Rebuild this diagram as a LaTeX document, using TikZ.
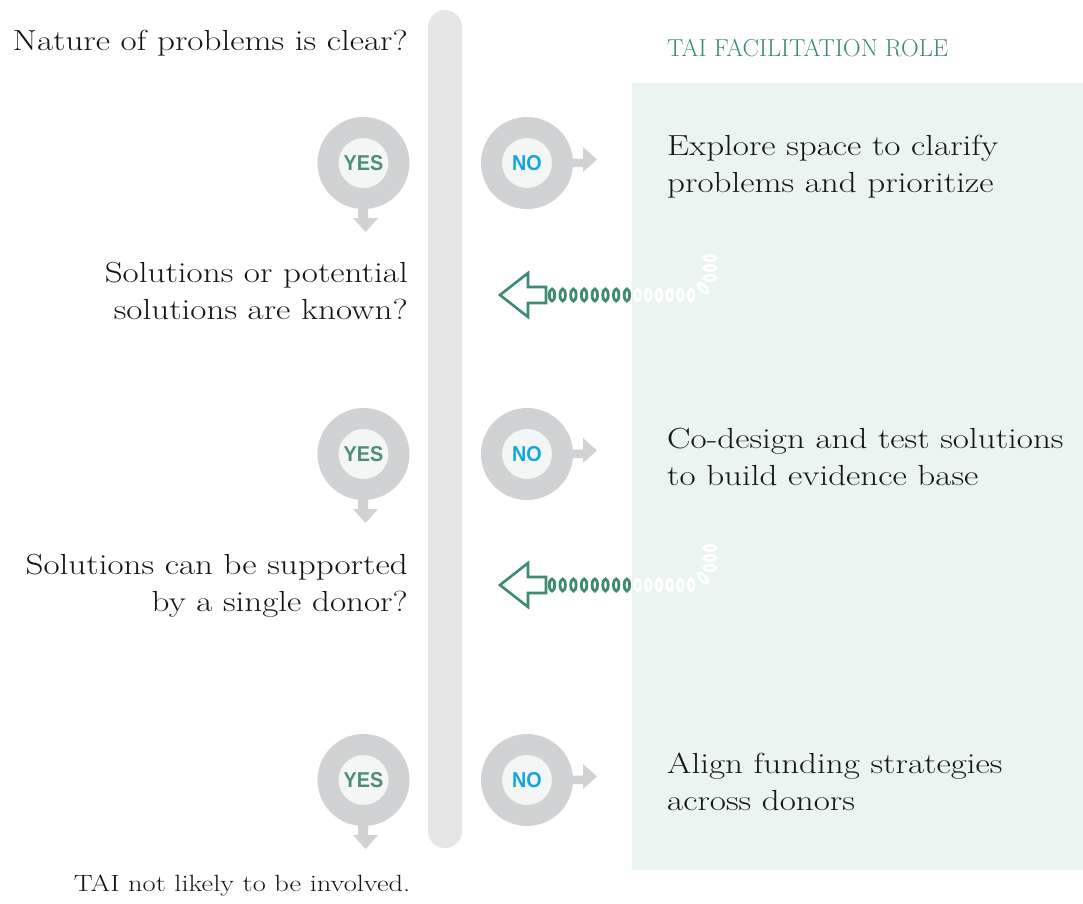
\documentclass[tikz,border=0pt]{standalone}
\usepackage{fontspec}
\newfontfamily\labelfont{Liberation Sans}[FakeStretch=0.92]
\newfontfamily\widefont{Latin Modern Roman}[FakeStretch=1.21]
\begin{document}
\definecolor{barGray}{HTML}{E6E6E6}
\definecolor{ringGray}{HTML}{D1D2D4}
\definecolor{ringFill}{HTML}{F4F5F5}
\definecolor{panelGreen}{HTML}{EAF4F1}
\definecolor{roleGreen}{HTML}{3E8A72}
\definecolor{yesGreen}{HTML}{4E8E78}
\definecolor{noBlue}{HTML}{12A5E0}
\definecolor{ink}{HTML}{161616}
\begin{tikzpicture}[x=1pt,y=-1pt,
  question/.style={anchor=east,align=right,text=ink,font=\widefont\fontsize{29}{37}\selectfont,inner sep=0pt},
  role/.style={anchor=west,align=left,text=ink,font=\widefont\fontsize{29}{37}\selectfont,inner sep=0pt},
  ring/.style={circle,draw=ringGray,line width=21pt,fill=ringFill,minimum size=71pt,inner sep=0pt,font=\labelfont\bfseries\fontsize{21.5}{21.5}\selectfont},
  yesring/.style={ring,text=yesGreen},
  noring/.style={ring,text=noBlue},
  pointer/.style={fill=ringGray,draw=none},
  coil/.style={line width=2.8pt},
  hollowarrow/.style={draw=roleGreen,line width=2.6pt,fill=white,line join=miter}
]
\useasboundingbox (0,0) rectangle (1083,903);
\fill[white] (0,0) rectangle (1083,903);

% facilitation panel and central bar
\fill[panelGreen] (632,83) rectangle (1083,870);
\fill[barGray,rounded corners=17pt] (428,10) rectangle (462,848);

\node[anchor=west,text=roleGreen,font=\fontsize{24.5}{24.5}\selectfont,inner sep=0pt] (title) at (667,48) {TAI FACILITATION ROLE};

% decision questions
\node[question] (q1) at (408,43) {Nature of problems is clear?};
\node[question] (q2) at (408,291) {Solutions or potential\\solutions are known?};
\node[question] (q3) at (408,586) {Solutions can be supported\\by a single donor?};

% facilitation roles
\node[role] (r1) at (667,167) {Explore space to clarify\\problems and prioritize};
\node[role] (r2) at (667,457) {Co-design and test solutions\\to build evidence base};
\node[role] (r3) at (667,782) {Align funding strategies\\across donors};

\node[anchor=center,text=ink,font=\widefont\fontsize{23.5}{23.5}\selectfont,inner sep=0pt] (none) at (242,886) {TAI not likely to be involved.};

% yes / no rings with their pointers
\foreach \y [count=\i] in {163,454,780}{
  \fill[pointer] (358,\y+40) -- (368,\y+40) -- (368,\y+55) -- (378,\y+55) -- (365.5,\y+69) -- (353,\y+55) -- (358,\y+55) -- cycle;
  \fill[pointer] (565,\y-4.5) -- (583,\y-4.5) -- (583,\y-16) -- (597,\y-3.5) -- (583,\y+9) -- (583,\y+4) -- (565,\y+4) -- cycle;
  \node[yesring] (yes\i) at (363.5,\y) {YES};
  \node[noring] (no\i) at (527,\y) {NO};
}

% coiled return arrows back to the next question
\foreach \y [count=\i] in {295,585}{
  \begin{scope}[shift={(0,\y)}]
    \foreach \k in {0,...,7}
      \draw[coil,draw=roleGreen] (552+\k*10.7,0) ellipse [x radius=2.7,y radius=6];
    \foreach \k in {8,...,13}
      \draw[coil,draw=white] (552+\k*10.7,0) ellipse [x radius=2.7,y radius=6];
    \draw[coil,draw=white,rotate around={45:(703,-7)}] (703,-7) ellipse [x radius=2.7,y radius=6.5];
    \foreach \v in {-17,-27,-37}
      \draw[coil,draw=white] (710,\v) ellipse [x radius=6,y radius=2.7];
    \draw[hollowarrow] (500,0) -- (528,-22) -- (528,-8) -- (546,-8) -- (546,8) -- (528,8) -- (528,22) -- cycle;
  \end{scope}
  \coordinate (back\i) at (500,\y);
}
\end{tikzpicture}
\end{document}
